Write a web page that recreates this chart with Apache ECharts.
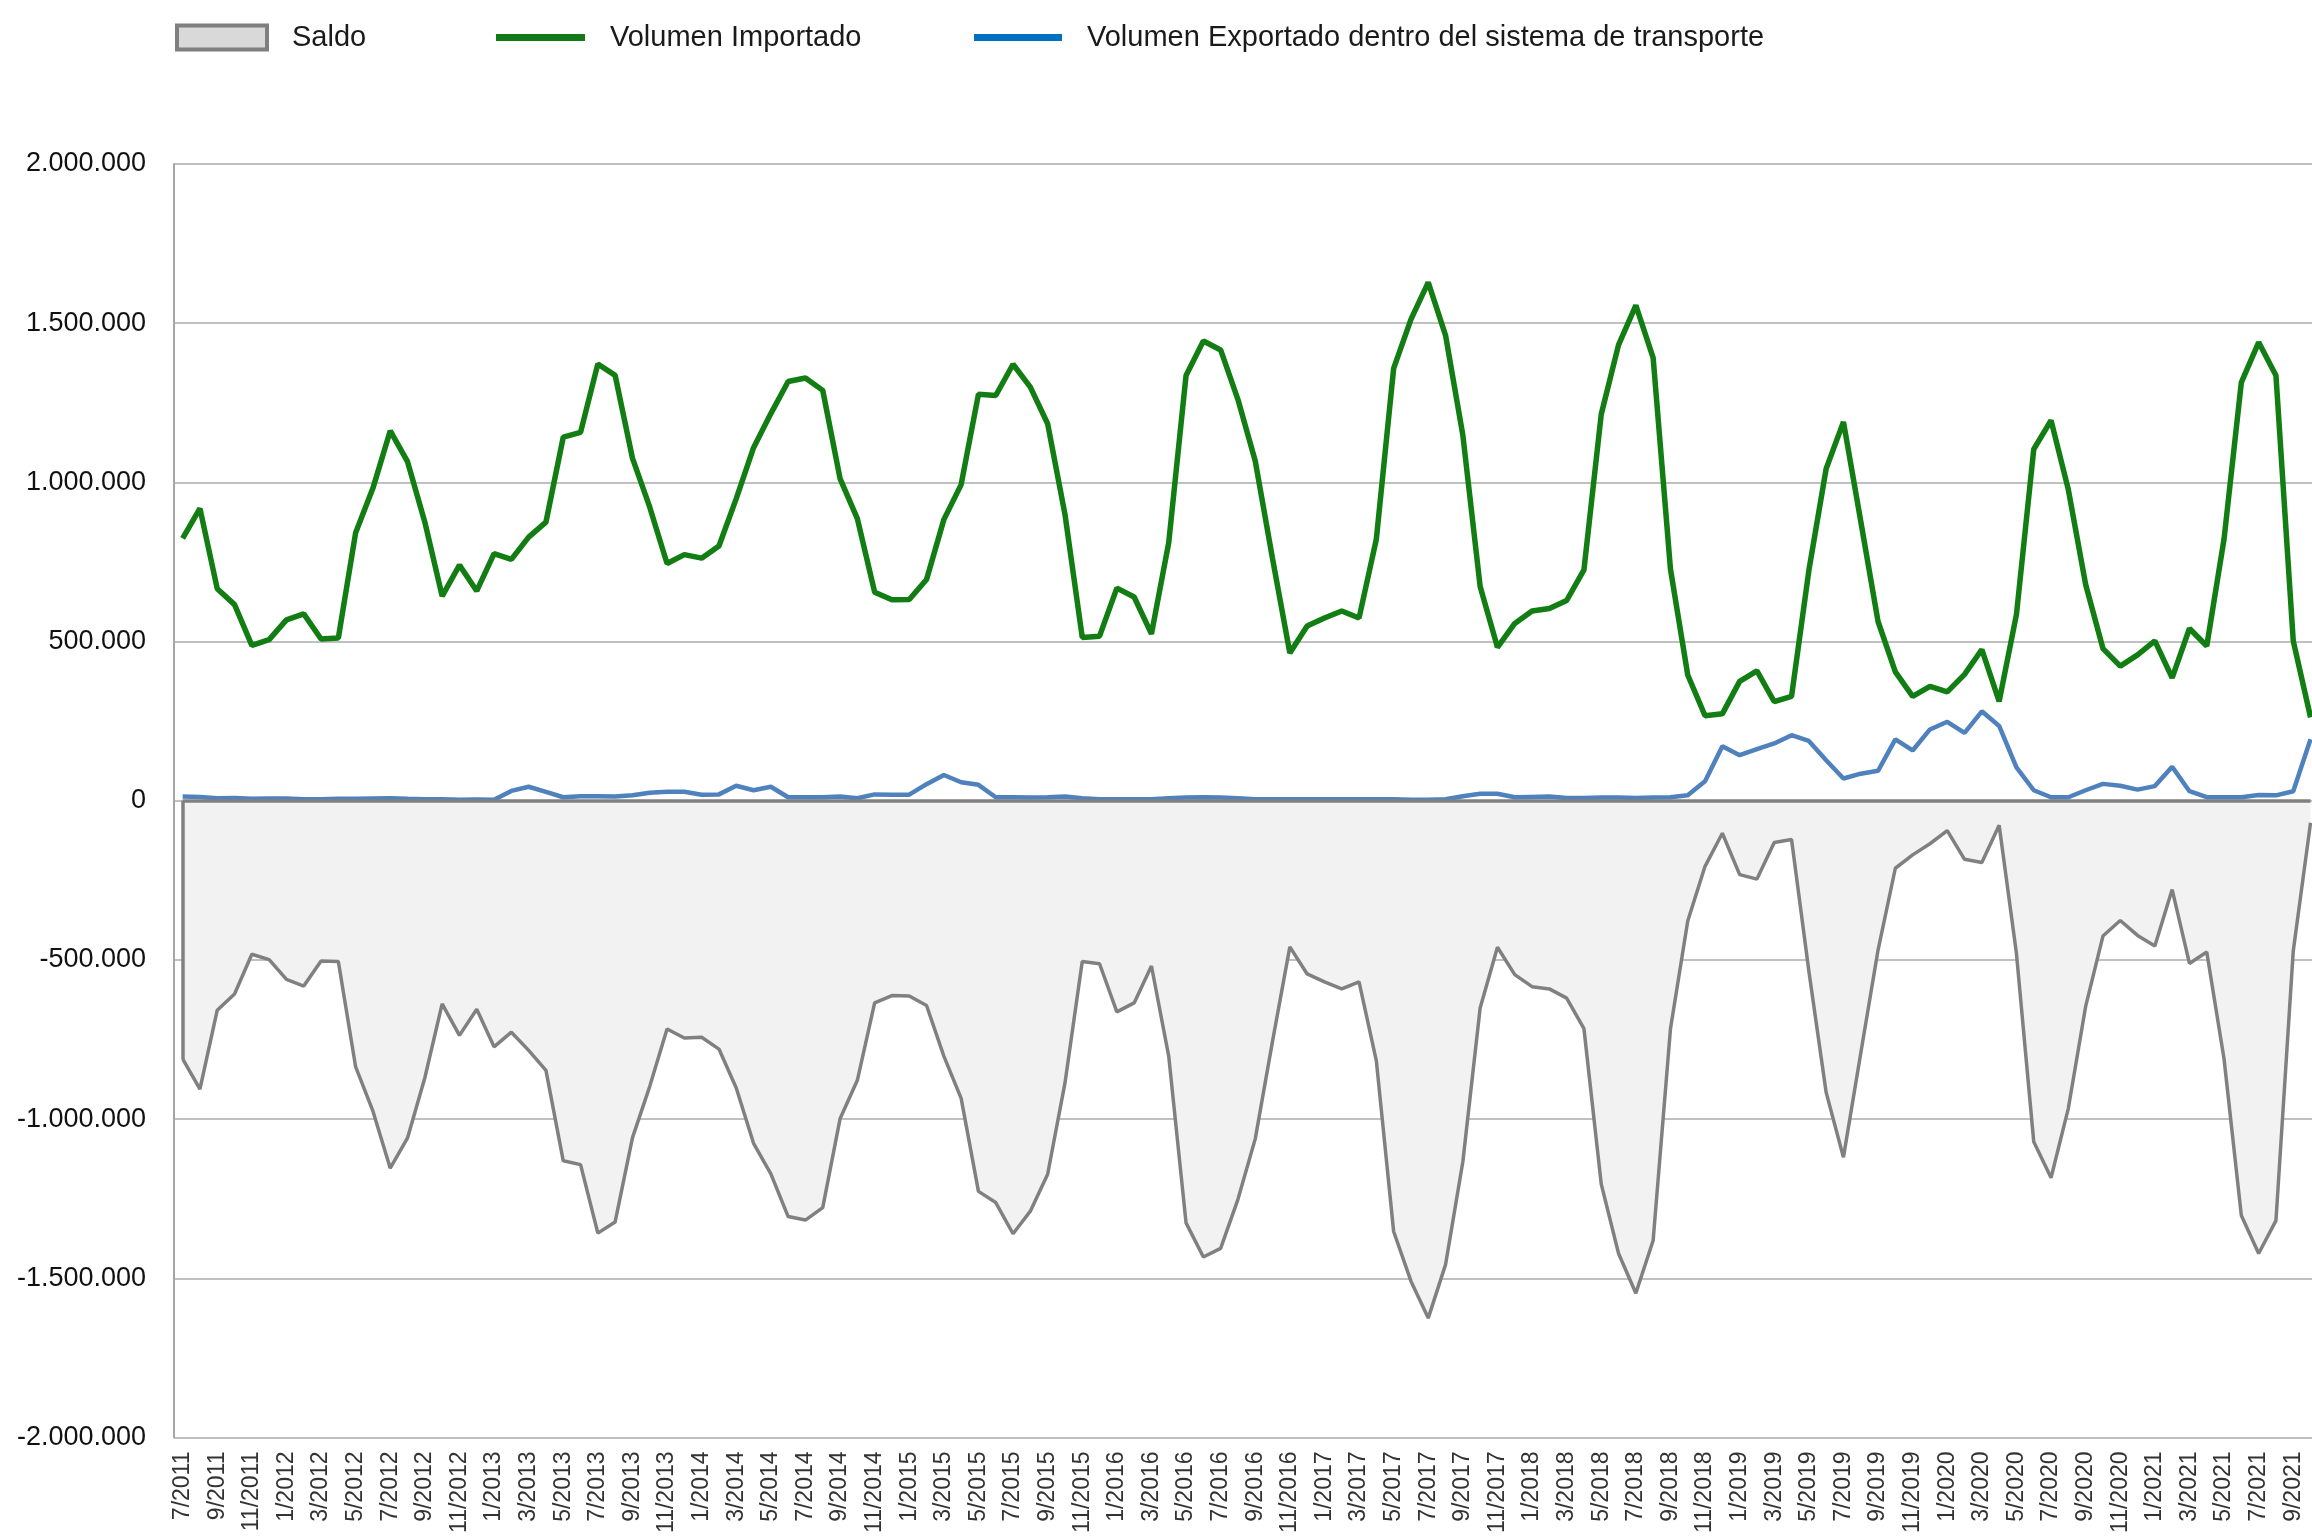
<!DOCTYPE html>
<html>
<head>
<meta charset="utf-8">
<script src="https://cdn.jsdelivr.net/npm/echarts@6/dist/echarts.min.js"></script>
<style>
  html, body { margin: 0; padding: 0; background: #fff; }
  #main { width: 2312px; height: 1536px; }
</style>
</head>
<body>
<div id="main"></div>
<script>
// meses (eje X)
const meses = [
  '7/2011','8/2011','9/2011','10/2011','11/2011','12/2011',
  '1/2012','2/2012','3/2012','4/2012','5/2012','6/2012','7/2012','8/2012','9/2012','10/2012','11/2012','12/2012',
  '1/2013','2/2013','3/2013','4/2013','5/2013','6/2013','7/2013','8/2013','9/2013','10/2013','11/2013','12/2013',
  '1/2014','2/2014','3/2014','4/2014','5/2014','6/2014','7/2014','8/2014','9/2014','10/2014','11/2014','12/2014',
  '1/2015','2/2015','3/2015','4/2015','5/2015','6/2015','7/2015','8/2015','9/2015','10/2015','11/2015','12/2015',
  '1/2016','2/2016','3/2016','4/2016','5/2016','6/2016','7/2016','8/2016','9/2016','10/2016','11/2016','12/2016',
  '1/2017','2/2017','3/2017','4/2017','5/2017','6/2017','7/2017','8/2017','9/2017','10/2017','11/2017','12/2017',
  '1/2018','2/2018','3/2018','4/2018','5/2018','6/2018','7/2018','8/2018','9/2018','10/2018','11/2018','12/2018',
  '1/2019','2/2019','3/2019','4/2019','5/2019','6/2019','7/2019','8/2019','9/2019','10/2019','11/2019','12/2019',
  '1/2020','2/2020','3/2020','4/2020','5/2020','6/2020','7/2020','8/2020','9/2020','10/2020','11/2020','12/2020',
  '1/2021','2/2021','3/2021','4/2021','5/2021','6/2021','7/2021','8/2021','9/2021','10/2021','11/2021'
];

const importado = [
  824000, 918000, 666000, 616000, 488000, 506000,
  568000, 587000, 508000, 511000, 842000, 982000, 1162000, 1065000, 875000, 643000, 740000, 659000,
  776000, 758000, 828000, 875000, 1142000, 1157000, 1372000, 1336000, 1076000, 922000, 745000, 773000,
  762000, 800000, 949000, 1109000, 1216000, 1317000, 1328000, 1289000, 1012000, 886000, 655000, 631000,
  632000, 695000, 883000, 993000, 1277000, 1273000, 1371000, 1299000, 1184000, 900000, 513000, 517000,
  668000, 640000, 524000, 811000, 1336000, 1444000, 1416000, 1260000, 1067000, 760000, 464000, 549000,
  574000, 596000, 574000, 822000, 1358000, 1512000, 1628000, 1462000, 1148000, 673000, 482000, 557000,
  596000, 604000, 629000, 725000, 1214000, 1432000, 1556000, 1391000, 728000, 395000, 267000, 273000,
  375000, 408000, 311000, 328000, 723000, 1043000, 1190000, 878000, 563000, 405000, 328000, 359000,
  342000, 397000, 475000, 312000, 585000, 1104000, 1195000, 977000, 679000, 478000, 423000, 458000,
  502000, 386000, 541000, 486000, 822000, 1314000, 1440000, 1336000, 502000, 262000
];

const exportado = [
  13000, 12000, 8000, 9000, 6000, 7000,
  7000, 5000, 5000, 6000, 6000, 7000, 8000, 6000, 5000, 5000, 3000, 4000,
  3000, 31000, 44000, 28000, 11000, 14000, 14000, 13000, 17000, 25000, 28000, 28000,
  19000, 20000, 47000, 33000, 44000, 11000, 11000, 11000, 13000, 8000, 20000, 19000,
  19000, 52000, 81000, 58000, 50000, 11000, 11000, 10000, 11000, 13000, 8000, 5000,
  5000, 5000, 5000, 8000, 10000, 11000, 10000, 8000, 5000, 5000, 5000, 5000,
  5000, 5000, 5000, 5000, 5000, 3000, 3000, 5000, 14000, 22000, 22000, 11000,
  12000, 13000, 9000, 9000, 10000, 10000, 9000, 10000, 11000, 17000, 61000, 171000,
  143000, 162000, 180000, 206000, 188000, 127000, 70000, 85000, 94000, 193000, 158000, 224000,
  248000, 213000, 281000, 235000, 105000, 33000, 11000, 11000, 33000, 53000, 47000, 35000,
  46000, 107000, 30000, 11000, 11000, 11000, 18000, 17000, 30000, 193000
];

const saldo = [
  -811000, -906000, -658000, -607000, -482000, -499000,
  -561000, -582000, -503000, -505000, -836000, -975000, -1154000, -1059000, -870000, -638000, -737000, -655000,
  -773000, -727000, -784000, -847000, -1131000, -1143000, -1358000, -1323000, -1059000, -897000, -717000, -745000,
  -743000, -780000, -902000, -1076000, -1172000, -1306000, -1317000, -1278000, -999000, -878000, -635000, -612000,
  -613000, -643000, -802000, -935000, -1227000, -1262000, -1360000, -1289000, -1173000, -887000, -505000, -512000,
  -663000, -635000, -519000, -803000, -1326000, -1433000, -1406000, -1252000, -1062000, -755000, -459000, -544000,
  -569000, -591000, -569000, -817000, -1353000, -1509000, -1625000, -1457000, -1134000, -651000, -460000, -546000,
  -584000, -591000, -620000, -716000, -1204000, -1422000, -1547000, -1381000, -717000, -378000, -206000, -102000,
  -232000, -246000, -131000, -122000, -535000, -916000, -1120000, -793000, -469000, -212000, -170000, -135000,
  -94000, -184000, -194000, -77000, -480000, -1071000, -1184000, -966000, -646000, -425000, -376000, -423000,
  -456000, -279000, -511000, -475000, -811000, -1303000, -1422000, -1319000, -472000, -69000
];

const nombres = ['Saldo', 'Volumen Importado', 'Volumen Exportado dentro del sistema de transporte'];

function miles(v) {
  const s = Math.abs(v).toString().replace(/\B(?=(\d{3})+(?!\d))/g, '.');
  return v < 0 ? '-' + s : s;
}

const legendText = {
  fontFamily: 'Liberation Sans, Arial, sans-serif',
  fontSize: 29,
  color: '#1a1a1a',
  padding: [0, 0, 0, 20]
};

const chart = echarts.init(document.getElementById('main'));
chart.setOption({
  animation: false,
  backgroundColor: '#ffffff',
  legend: [
    {
      left: 170, top: 18, itemWidth: 90, itemHeight: 24, selectedMode: false,
      textStyle: legendText,
      data: [{ name: nombres[0], icon: 'rect', itemStyle: { color: '#d9d9d9', borderColor: '#7f7f7f', borderWidth: 4 } }]
    },
    {
      left: 491, top: 18, itemWidth: 89, itemHeight: 7, selectedMode: false,
      textStyle: legendText,
      data: [{ name: nombres[1], icon: 'rect', itemStyle: { color: '#127a16', borderWidth: 0 } }]
    },
    {
      left: 969, top: 18, itemWidth: 88, itemHeight: 7, selectedMode: false,
      textStyle: legendText,
      data: [{ name: nombres[2], icon: 'rect', itemStyle: { color: '#0070c0', borderWidth: 0 } }]
    }
  ],
  grid: {
    left: 174,
    right: -24.5,
    top: 164,
    bottom: 98.5,
    outerBoundsMode: 'none'
  },
  xAxis: {
    type: 'category',
    data: meses,
    boundaryGap: true,
    axisLine: { show: false },
    axisTick: { show: false },
    splitLine: { show: false },
    axisLabel: {
      rotate: 90,
      interval: 1,
      margin: 14,
      fontFamily: 'Liberation Sans, Arial, sans-serif',
      fontSize: 23,
      color: '#333333'
    }
  },
  yAxis: {
    type: 'value',
    min: -2000000,
    max: 2000000,
    interval: 500000,
    axisLine: { show: true, lineStyle: { color: '#a6a6a6', width: 2 } },
    axisTick: { show: false },
    splitLine: { show: true, lineStyle: { color: '#c0c0c0', width: 2 } },
    axisLabel: {
      margin: 28,
      fontFamily: 'Liberation Sans, Arial, sans-serif',
      fontSize: 27,
      color: '#111111',
      formatter: miles
    }
  },
  series: [
    {
      name: nombres[0],
      type: 'line',
      data: saldo,
      symbol: 'none',
      lineStyle: { color: '#808080', width: 3.5 },
      itemStyle: { color: '#808080' },
      areaStyle: { color: '#f2f2f2', opacity: 1 },
      markLine: {
        silent: true,
        symbol: 'none',
        label: { show: false },
        lineStyle: { color: '#808080', width: 3.5, type: 'solid' },
        data: [
          [{ coord: [meses[0], 0] }, { coord: [meses[saldo.length - 1], 0] }],
          [{ coord: [meses[0], 0] }, { coord: [meses[0], saldo[0]] }]
        ]
      }
    },
    {
      name: nombres[1],
      type: 'line',
      data: importado,
      symbol: 'none',
      lineStyle: { color: '#127d12', width: 5.5 },
      itemStyle: { color: '#127d12' }
    },
    {
      name: nombres[2],
      type: 'line',
      data: exportado,
      symbol: 'none',
      lineStyle: { color: '#4f81bd', width: 4.5 },
      itemStyle: { color: '#4f81bd' }
    }
  ]
});
</script>
</body>
</html>
